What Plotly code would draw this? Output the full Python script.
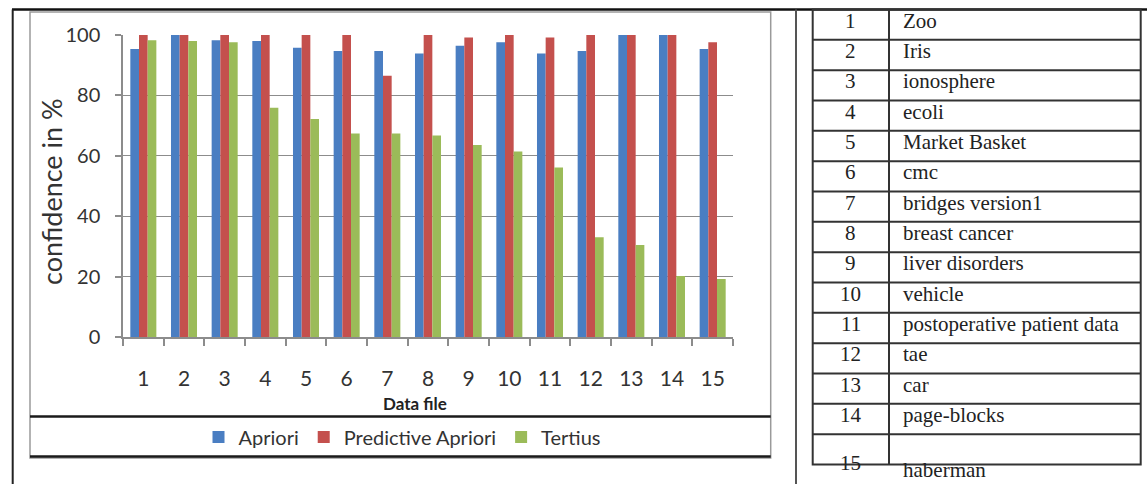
import plotly.graph_objects as go

# Data files (x categories) and confidence per algorithm, in %
data_files = [str(i) for i in range(1, 16)]
apriori = [95.4, 100, 98.3, 98.0, 95.8, 94.7, 94.7, 93.9, 96.4, 97.6, 93.9, 94.7, 100, 100, 95.4]
predictive_apriori = [100, 100, 100, 100, 100, 100, 86.5, 100, 99.2, 100, 99.2, 100, 100, 100, 97.6]
tertius = [98.3, 98.0, 97.6, 75.9, 72.2, 67.4, 67.4, 66.7, 63.6, 61.4, 56.1, 33.0, 30.5, 20.2, 19.2]

# Lookup table: data file number -> dataset name
table_ids = [str(i) for i in range(1, 16)]
table_names = ["Zoo", "Iris", "ionosphere", "ecoli", "Market Basket", "cmc",
               "bridges version1", "breast cancer", "liver disorders", "vehicle",
               "postoperative patient data", "tae", "car", "page-blocks", "haberman"]

W, H = 1147, 484
ML, MR, MT, MB = 123, 414, 35, 147
PW, PH = W - ML - MR, H - MT - MB


def px(x):
    return (x - ML) / PW


def py(y):
    return (H - MB - y) / PH


def hline(x0, x1, y, color, width):
    return dict(type="line", xref="paper", yref="paper", x0=px(x0), x1=px(x1),
                y0=py(y), y1=py(y), line=dict(color=color, width=width))


def vline(x, y0, y1, color, width):
    return dict(type="line", xref="paper", yref="paper", x0=px(x), x1=px(x),
                y0=py(y0), y1=py(y1), line=dict(color=color, width=width))


SANS = "Lato"
SERIF = "Liberation Serif"
GRID = "#8c8c8c"

fig = go.Figure()
for name, vals, color in [("Apriori", apriori, "#4A7EC2"),
                          ("Predictive Apriori", predictive_apriori, "#C4504D"),
                          ("Tertius", tertius, "#9BBB59")]:
    fig.add_trace(go.Bar(x=data_files, y=vals, name=name, marker_color=color,
                         marker_line_width=0))

shapes = []
# outer frame lines
shapes.append(hline(12, 1147, 9.5, "#111", 2.5))
shapes.append(vline(12.7, 9.5, 484, "#222", 2))
shapes.append(vline(796, 9.5, 484, "#555", 2))
# chart border
shapes.append(dict(type="rect", xref="paper", yref="paper", x0=px(30), x1=px(770.7),
                   y0=py(12), y1=py(458), line=dict(color="#9a9a9a", width=1.5)))
# legend box lines
for yy in (416.5, 456.5):
    shapes.append(hline(30, 770.7, yy, "#1a1a1a", 2.5))

# table grid
t_left, t_mid, t_right = 812.7, 889, 1140.7
t_top, t_bot = 9.5, 464.5
row_h = (t_bot - t_top) / len(table_ids)
shapes.append(dict(type="rect", xref="paper", yref="paper", x0=px(t_left), x1=px(t_right),
                   y0=py(t_top), y1=py(t_bot), line=dict(color="#333", width=2)))
shapes.append(vline(t_mid, t_top, t_bot, "#333", 2))
for k in range(1, len(table_ids)):
    shapes.append(hline(t_left, t_right, t_top + k * row_h, "#333", 2))

annotations = []
for i, (tid, tname) in enumerate(zip(table_ids, table_names)):
    cy = t_top + (i + 0.5) * row_h - 4
    name_y = cy
    if i == len(table_ids) - 1:
        cy = 463
        name_y = 470
    annotations.append(dict(x=px((t_left + t_mid) / 2), y=py(cy), xref="paper", yref="paper",
                            text=tid, showarrow=False, xanchor="center", yanchor="middle",
                            font=dict(family=SERIF, size=21, color="#222")))
    annotations.append(dict(x=px(901), y=py(name_y), xref="paper", yref="paper",
                            text=tname, showarrow=False, xanchor="left", yanchor="middle",
                            font=dict(family=SERIF, size=21, color="#222")))

# axis titles
annotations.append(dict(x=px(51), y=py(192), xref="paper", yref="paper", text="confidence in %",
                        textangle=-90, showarrow=False, xanchor="center", yanchor="middle",
                        font=dict(family=SANS, size=27, color="#333")))
annotations.append(dict(x=px(415), y=py(403), xref="paper", yref="paper", text="<b>Data file</b>",
                        showarrow=False, xanchor="center", yanchor="middle",
                        font=dict(family=SANS, size=17, color="#222")))

fig.update_layout(
    width=W, height=H,
    margin=dict(l=ML, r=MR, t=MT, b=MB, pad=0),
    paper_bgcolor="white", plot_bgcolor="white",
    barmode="group", bargap=0.36, bargroupgap=0,
    font=dict(family=SANS, size=20, color="#333"),
    showlegend=True,
    legend=dict(orientation="h", x=px(402), y=py(437), xanchor="center", yanchor="middle",
                font=dict(family=SANS, size=20, color="#333"), bgcolor="rgba(0,0,0,0)",
                itemwidth=30, traceorder="normal"),
    shapes=shapes,
    annotations=annotations,
)
fig.update_xaxes(type="category", showgrid=False, showline=True, linecolor=GRID, linewidth=1.5,
                 ticks="outside", tickson="boundaries", ticklen=7, tickcolor=GRID, tickwidth=1.5,
                 tickfont=dict(family=SANS, size=21, color="#333"), ticklabelstandoff=22)
fig.update_yaxes(range=[0, 100], tickvals=[0, 20, 40, 60, 80, 100], showgrid=True,
                 gridcolor=GRID, gridwidth=1.2, showline=True, linecolor=GRID, linewidth=1.5,
                 ticks="outside", ticklen=6, tickcolor=GRID, tickwidth=1.5, zeroline=False,
                 tickfont=dict(family=SANS, size=20, color="#333"), ticklabelstandoff=11)

fig.write_html("out.html")
